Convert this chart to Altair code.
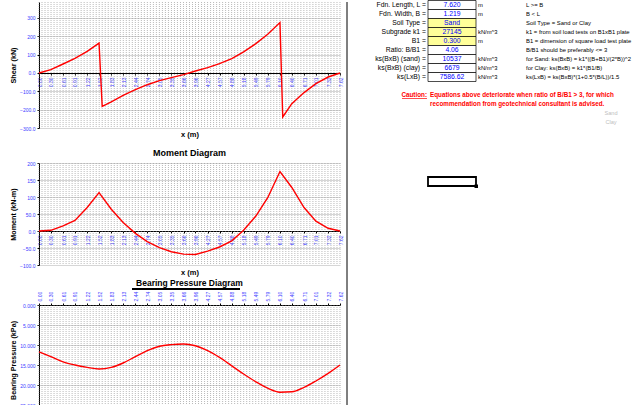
import altair as alt
import pandas as pd

FONT = "Liberation Sans"
BLUE = "#3c3cff"
RED = "#ff0000"

# ---------------- data ----------------
x_labels = [0.00, 0.30, 0.61, 0.91, 1.22, 1.52, 1.83, 2.13, 2.44, 2.74, 3.05, 3.35, 3.66,
            3.96, 4.27, 4.57, 4.88, 5.18, 5.49, 5.79, 6.10, 6.40, 6.71, 7.01, 7.32, 7.62]
grid_x = [round(i * 0.0762, 4) for i in range(101)]

shear_x = [0.00, 0.30, 0.61, 0.91, 1.22, 1.52, 1.60, 1.83, 2.13, 2.44, 2.74, 3.05, 3.35, 3.66,
           3.96, 4.27, 4.57, 4.88, 5.18, 5.49, 5.79, 6.10, 6.17, 6.40, 6.71, 7.01, 7.32, 7.62]
shear_v = [0, 18, 49, 80, 118, 163, -182, -158, -122, -91, -64, -42, -25, -9,
           11, 29, 51, 78, 115, 160, 211, 275, -240, -167, -107, -58, -22, 0]

moment_v = [0, 2, 15, 31, 69, 113, 64, 25, -7, -31, -49, -61, -68,
            -69, -59, -47, -29, 2, 44, 98, 175, 128, 69, 29, 8, 0]

bearing_v = [11.7, 12.9, 14.2, 15.0, 15.6, 16.0, 15.6, 14.5, 12.9, 11.4, 10.3, 9.9, 9.75,
             10.2, 11.4, 13.1, 15.2, 17.25, 19.2, 20.8, 21.8, 21.7, 20.6, 19.0, 17.1, 15.0]

shear_ticks = [-300, -200, -100, 0, 100, 200, 300]
moment_ticks = [-100, -50, 0, 50, 100, 150, 200]
bearing_ticks = [0, 5, 10, 15, 20, 25]

in_labels = ["Fdn. Length, L =", "Fdn. Width, B =", "Soil Type =", "Subgrade k1 =", "B1 =",
             "Ratio: B/B1 =", "ks(BxB) (sand) =", "ks(BxB) (clay) =", "ks(LxB) ="]
in_values = ["7.620", "1.219", "Sand", "27145", "0.300", "4.06", "10537", "6679", "7586.62"]
in_units = ["m", "m", "", "kN/m^3", "m", "", "kN/m^3", "kN/m^3", "kN/m^3"]
in_notes = ["L >= B", "B < L", "Soil Type = Sand or Clay",
            "k1 = from soil load tests on B1xB1 plate",
            "B1 = dimension of square load test plate",
            "B/B1 should be preferably <= 3",
            "for Sand: ks(BxB) = k1*((B+B1)/(2*B))^2",
            "for Clay: ks(BxB) = k1*(B1/B)",
            "ks(LxB) = ks(BxB)*(1+0.5*(B/L))/1.5"]
in_fill = ["white", "white", "#ffff99", "#ffff99", "#ffff99", "white", "white", "white", "white"]
caution_lines = ["Equations above deteriorate when ratio of B/B1 > 3, for which",
                 "recommendation from geotechnical consultant is advised."]
list_items = ["Sand", "Clay"]

# ---------------- charts ----------------
W = 301
xscale = alt.Scale(domain=[0, 7.62], nice=False, zero=False)
grid_df = pd.DataFrame({"x": grid_x})

label_expr_sm = "datum.value >= 100 ? format(datum.value, 'd') : format(datum.value, '.1f')"


def yaxis(vals, title, expr=None, fmt=None, titleY=None):
    kw = dict(values=vals, grid=True, gridColor="#c4c4c4", gridWidth=0.7,
              domainColor="#000000", domainWidth=1, tickSize=2, tickColor="#000000",
              labelFont=FONT, labelFontSize=5, labelColor=BLUE, labelPadding=2,
              labelOverlap=False,
              title=title, titleFont=FONT, titleFontSize=7.2, titleFontWeight="bold",
              titleColor="#000000", titleX=-22)
    if expr:
        kw["labelExpr"] = expr
    if fmt:
        kw["format"] = fmt
    if titleY is not None:
        kw["titleY"] = titleY
    return alt.Axis(**kw)


def xaxis(offset, orient="bottom", title=None, titleY=None):
    kw = dict(values=x_labels, format=".2f", orient=orient, grid=False, labelAngle=-90,
              labelFont=FONT, labelFontSize=5, labelColor=BLUE, labelPadding=2,
              labelOverlap=False,
              domainColor="#000000", domainWidth=1.2, tickColor="#000000", tickSize=2,
              offset=offset)
    if title:
        kw.update(title=title, titleFont=FONT, titleFontSize=7.5, titleFontWeight="bold",
                  titleColor="#000000", titleY=titleY)
    else:
        kw["title"] = None
    return alt.Axis(**kw)


def panel(df, yfield, ydomain, ax_x, ax_y, reverse=False, interp="linear"):
    yscale_ = alt.Scale(domain=ydomain, nice=False, zero=False, reverse=reverse)
    grid = alt.Chart(grid_df).mark_rule(stroke="#8a8a8a", strokeWidth=0.6, strokeDash=[1, 1]).encode(
        x=alt.X("x:Q", scale=xscale, axis=ax_x))
    line = alt.Chart(df).mark_line(color=RED, strokeWidth=1.4, interpolate=interp).encode(
        x=alt.X("x:Q", scale=xscale, axis=ax_x),
        y=alt.Y(f"{yfield}:Q", scale=yscale_, axis=ax_y))
    return grid, line


shear_df = pd.DataFrame({"x": shear_x, "v": shear_v})
g, l = panel(shear_df, "v", [-300, 387],
             xaxis(-55, title="x (m)", titleY=57),
             yaxis(shear_ticks, "Shear (kN)", expr=label_expr_sm))
shear = alt.layer(g, l).properties(width=W, height=126)

moment_df = pd.DataFrame({"x": x_labels, "m": moment_v})
g, l = panel(moment_df, "m", [-100, 200],
             xaxis(-34, title="x (m)", titleY=37),
             yaxis(moment_ticks, "Moment (kN-m)", expr=label_expr_sm))
moment = alt.layer(g, l).properties(
    width=W, height=102,
    title=alt.TitleParams("Moment Diagram", font=FONT, fontSize=9, fontWeight="bold",
                          color="#000000", offset=3, anchor="middle"))

bearing_df = pd.DataFrame({"x": x_labels, "p": bearing_v})
g, l = panel(bearing_df, "p", [0, 25.25],
             xaxis(0, orient="top"),
             yaxis(bearing_ticks, "Bearing Pressure (kPa)", fmt=".3f", titleY=55),
             reverse=True, interp="monotone")
uline = alt.Chart(bearing_df).mark_rule(color="#000000", strokeWidth=0.8).encode(
    x=alt.value(93), x2=alt.value(201), y=alt.value(-16))
bearing = alt.layer(g, l, uline).properties(
    width=W, height=101,
    title=alt.TitleParams("Bearing Pressure Diagram", font=FONT, fontSize=8.5,
                          fontWeight="bold", color="#000000", offset=1, anchor="middle"))

left = alt.vconcat(alt.vconcat(shear, moment, spacing=11), bearing, spacing=3)

# ---------------- right panel ----------------
RW, RH = 293, 405
yscale = alt.Scale(domain=[2 / 3, 45 + 2 / 3], nice=False, zero=False, reverse=True)
rows = list(range(1, 10))
tab = pd.DataFrame({"r": rows, "lo": [r - 0.5 for r in rows], "hi": [r + 0.5 for r in rows],
                    "label": in_labels, "value": in_values, "unit": in_units,
                    "note": in_notes, "fill": in_fill})
caut = pd.DataFrame({"r": [11, 12], "t": caution_lines})
lst = pd.DataFrame({"r": [13, 14], "t": list_items})
ctag = pd.DataFrame({"r": [11], "t": ["Caution:"]})

Y = lambda f: alt.Y(f, scale=yscale, axis=None)

cells = alt.Chart(tab).mark_rect(stroke="#000000", strokeWidth=0.7).encode(
    x=alt.value(81), x2=alt.value(129), y=Y("lo:Q"), y2="hi:Q",
    fill=alt.Color("fill:N", scale=None))
labs = alt.Chart(tab).mark_text(align="right", baseline="middle", font=FONT, fontSize=6.8,
                                color="#000000").encode(x=alt.value(79), y=Y("r:Q"), text="label:N")
vals = alt.Chart(tab).mark_text(align="center", baseline="middle", font=FONT, fontSize=6.8,
                                color="#0000ff").encode(x=alt.value(105), y=Y("r:Q"), text="value:N")
units = alt.Chart(tab).mark_text(align="left", baseline="middle", font=FONT, fontSize=5.8,
                                 color="#000000").encode(x=alt.value(131), y=Y("r:Q"), text="unit:N")
notes = alt.Chart(tab).mark_text(align="left", baseline="middle", font=FONT, fontSize=5.9,
                                 color="#000000").encode(x=alt.value(179), y=Y("r:Q"), text="note:N")
ctext = alt.Chart(caut).mark_text(align="left", baseline="middle", font=FONT, fontSize=6.3,
                                  fontWeight="bold", color=RED).encode(
    x=alt.value(83), y=Y("r:Q"), text="t:N")
ctagm = alt.Chart(ctag).mark_text(align="right", baseline="middle", font=FONT, fontSize=6.3,
                                  fontWeight="bold", color=RED).encode(
    x=alt.value(80), y=Y("r:Q"), text="t:N")
cunder = alt.Chart(ctag).mark_rule(color=RED, strokeWidth=0.7).encode(
    x=alt.value(55), x2=alt.value(80), y=alt.value(96.5))
lstm = alt.Chart(lst).mark_text(align="center", baseline="middle", font=FONT, fontSize=5.6,
                                color="#c0c0c0").encode(x=alt.value(264), y=Y("r:Q"), text="t:N")
sep = alt.Chart(ctag).mark_rule(color="#000000", strokeWidth=1).encode(
    x=alt.value(0), y=alt.value(0), y2=alt.value(RH))
selbox = alt.Chart(ctag).mark_rect(fill="white", stroke="#000000", strokeWidth=1.8).encode(
    x=alt.value(81), x2=alt.value(129), y=alt.value(175), y2=alt.value(184))
selhandle = alt.Chart(ctag).mark_rect(fill="#000000").encode(
    x=alt.value(127.5), x2=alt.value(131), y=alt.value(182.5), y2=alt.value(186))

right = alt.layer(cells, labs, vals, units, notes, ctext, ctagm, cunder, lstm, sep, selbox,
                  selhandle).properties(width=RW, height=RH)

chart = alt.hconcat(left, right, spacing=3).properties(
    padding={"left": 8, "top": 0, "right": 0, "bottom": 0}, background="white"
).configure_view(stroke=None)

chart.save("out.html", embed_options={"renderer": "svg", "actions": False})
